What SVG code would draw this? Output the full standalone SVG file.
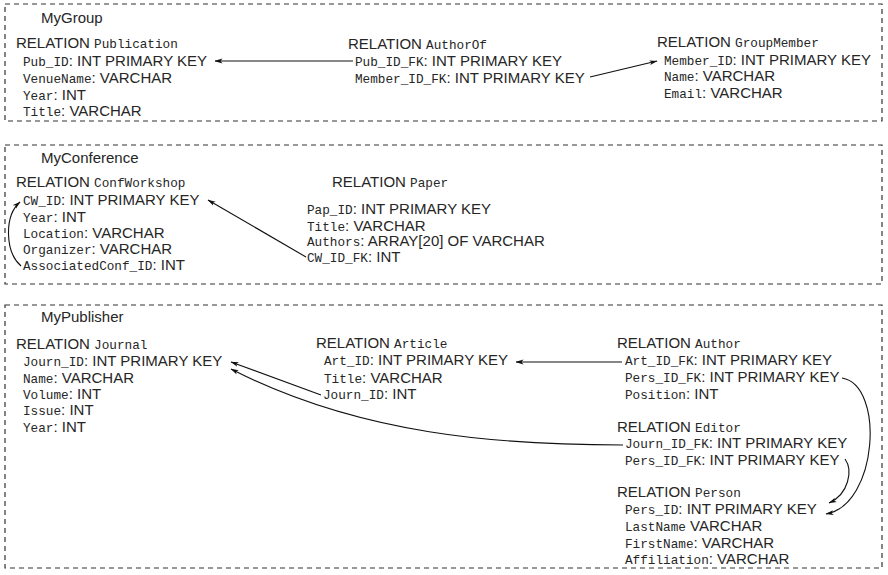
<svg xmlns="http://www.w3.org/2000/svg" width="888" height="575" viewBox="0 0 888 575">
  <style>
    .frame { fill: none; stroke: #333; stroke-width: 1.2; stroke-dasharray: 5 4; }
    text { font-family: "Liberation Sans", "DejaVu Sans", sans-serif; font-size: 15px; fill: #262626; }
    .tt { font-family: "Liberation Mono", "DejaVu Sans Mono", monospace; font-size: 12.7px; }
    .conn { fill: none; stroke: #111; stroke-width: 1.1; marker-end: url(#arr); }
  </style>
  <defs>
    <marker id="arr" markerUnits="userSpaceOnUse" viewBox="0 0 8 6" refX="7.5" refY="3" markerWidth="8" markerHeight="6" orient="auto">
      <path d="M0,0.6 L8,3 L0,5.4 L2,3 z" fill="#111"/>
    </marker>
  </defs>

  <rect width="888" height="575" fill="#fff"/>

  <!-- MyGroup schema -->
  <g id="MyGroup">
    <rect class="frame" x="5" y="4" width="877" height="117"/>
    <text x="41" y="23">MyGroup</text>
  </g>
  <g id="Publication">
    <text x="16" y="48">RELATION <tspan class="tt">Publication</tspan></text>
    <text x="23" y="66"><tspan class="tt">Pub_ID</tspan>: INT PRIMARY KEY</text>
    <text x="23" y="83"><tspan class="tt">VenueName</tspan>: VARCHAR</text>
    <text x="23" y="99.5"><tspan class="tt">Year</tspan>: INT</text>
    <text x="23" y="116"><tspan class="tt">Title</tspan>: VARCHAR</text>
  </g>
  <g id="AuthorOf">
    <text x="348" y="49">RELATION <tspan class="tt">AuthorOf</tspan></text>
    <text x="355" y="66"><tspan class="tt">Pub_ID_FK</tspan>: INT PRIMARY KEY</text>
    <text x="355" y="83"><tspan class="tt">Member_ID_FK</tspan>: INT PRIMARY KEY</text>
  </g>
  <g id="GroupMember">
    <text x="657" y="47">RELATION <tspan class="tt">GroupMember</tspan></text>
    <text x="664" y="64.5"><tspan class="tt">Member_ID</tspan>: INT PRIMARY KEY</text>
    <text x="664" y="81"><tspan class="tt">Name</tspan>: VARCHAR</text>
    <text x="664" y="97.5"><tspan class="tt">Email</tspan>: VARCHAR</text>
  </g>

  <!-- MyConference schema -->
  <g id="MyConference">
    <rect class="frame" x="5" y="145" width="877" height="139"/>
    <text x="41" y="163">MyConference</text>
  </g>
  <g id="ConfWorkshop">
    <text x="16" y="187">RELATION <tspan class="tt">ConfWorkshop</tspan></text>
    <text x="23" y="205"><tspan class="tt">CW_ID</tspan>: INT PRIMARY KEY</text>
    <text x="23" y="221.5"><tspan class="tt">Year</tspan>: INT</text>
    <text x="23" y="237.5"><tspan class="tt">Location</tspan>: VARCHAR</text>
    <text x="23" y="253.5"><tspan class="tt">Organizer</tspan>: VARCHAR</text>
    <text x="23" y="270"><tspan class="tt">AssociatedConf_ID</tspan>: INT</text>
  </g>
  <g id="Paper">
    <text x="332" y="187">RELATION <tspan class="tt">Paper</tspan></text>
    <text x="307" y="214"><tspan class="tt">Pap_ID</tspan>: INT PRIMARY KEY</text>
    <text x="307" y="230.5"><tspan class="tt">Title</tspan>: VARCHAR</text>
    <text x="307" y="246"><tspan class="tt">Authors</tspan>: ARRAY[20] OF VARCHAR</text>
    <text x="307" y="262"><tspan class="tt">CW_ID_FK</tspan>: INT</text>
  </g>

  <!-- MyPublisher schema -->
  <g id="MyPublisher">
    <rect class="frame" x="5" y="305" width="877" height="263"/>
    <text x="41" y="322">MyPublisher</text>
  </g>
  <g id="Journal">
    <text x="16" y="349">RELATION <tspan class="tt">Journal</tspan></text>
    <text x="23" y="366"><tspan class="tt">Journ_ID</tspan>: INT PRIMARY KEY</text>
    <text x="23" y="382.5"><tspan class="tt">Name</tspan>: VARCHAR</text>
    <text x="23" y="398.5"><tspan class="tt">Volume</tspan>: INT</text>
    <text x="23" y="415"><tspan class="tt">Issue</tspan>: INT</text>
    <text x="23" y="431.5"><tspan class="tt">Year</tspan>: INT</text>
  </g>
  <g id="Article">
    <text x="316" y="348">RELATION <tspan class="tt">Article</tspan></text>
    <text x="324" y="365"><tspan class="tt">Art_ID</tspan>: INT PRIMARY KEY</text>
    <text x="324" y="382.5"><tspan class="tt">Title</tspan>: VARCHAR</text>
    <text x="323" y="399"><tspan class="tt">Journ_ID</tspan>: INT</text>
  </g>
  <g id="Author">
    <text x="617" y="348">RELATION <tspan class="tt">Author</tspan></text>
    <text x="625" y="365"><tspan class="tt">Art_ID_FK</tspan>: INT PRIMARY KEY</text>
    <text x="625" y="382"><tspan class="tt">Pers_ID_FK</tspan>: INT PRIMARY KEY</text>
    <text x="625" y="399"><tspan class="tt">Position</tspan>: INT</text>
  </g>
  <g id="Editor">
    <text x="617" y="431.5">RELATION <tspan class="tt">Editor</tspan></text>
    <text x="625" y="448"><tspan class="tt">Journ_ID_FK</tspan>: INT PRIMARY KEY</text>
    <text x="625" y="465"><tspan class="tt">Pers_ID_FK</tspan>: INT PRIMARY KEY</text>
  </g>
  <g id="Person">
    <text x="617" y="497">RELATION <tspan class="tt">Person</tspan></text>
    <text x="625" y="514"><tspan class="tt">Pers_ID</tspan>: INT PRIMARY KEY</text>
    <text x="625" y="531"><tspan class="tt">LastName</tspan> VARCHAR</text>
    <text x="625" y="547.5"><tspan class="tt">FirstName</tspan>: VARCHAR</text>
    <text x="625" y="564"><tspan class="tt">Affiliation</tspan>: VARCHAR</text>
  </g>

  <!-- foreign key references -->
  <g id="connectors">
    <path class="conn" d="M353,61 L215,61"/>
    <path class="conn" d="M590,77 L657,61"/>
    <path class="conn" d="M306,257 L208,200"/>
    <path class="conn" d="M21,266 C5,252 4,216 20,202"/>
    <path class="conn" d="M622,362 L516,362"/>
    <path class="conn" d="M321,395 L231,362"/>
    <path class="conn" d="M623,445 C500,445 360,435 231,369"/>
    <path class="conn" d="M842,378 C885,385 878,505 826,514"/>
    <path class="conn" d="M845,459 C853,470 849,494 829,503"/>
  </g>
</svg>
